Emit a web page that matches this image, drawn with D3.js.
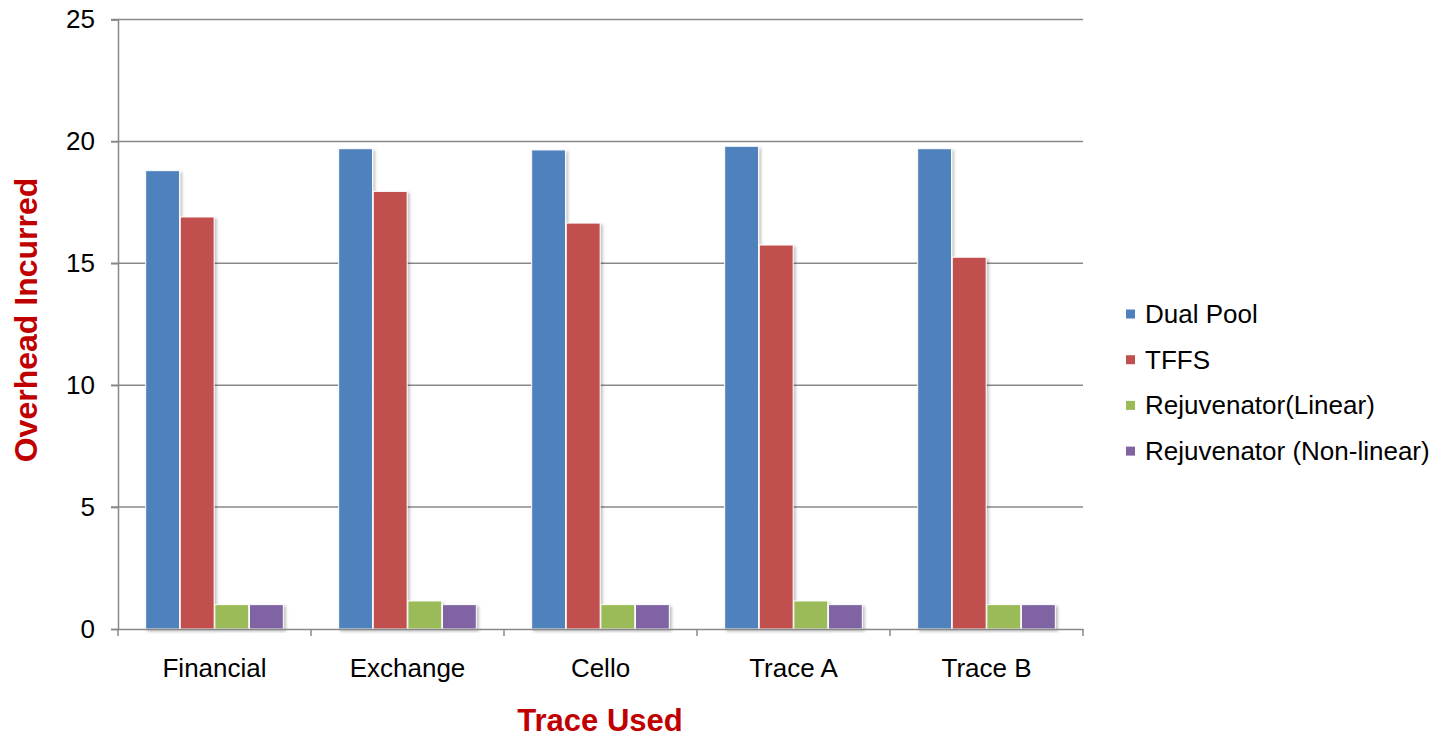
<!DOCTYPE html>
<html>
<head>
<meta charset="utf-8">
<script src="https://cdn.jsdelivr.net/npm/d3@7"></script>
<style>
  body { margin: 0; background: #fff; }
  text { font-family: "Liberation Sans", Arial, sans-serif; }
</style>
</head>
<body>
<div id="chart"></div>
<script>
(function () {
  const traces = ["Financial", "Exchange", "Cello", "Trace A", "Trace B"];
  const seriesNames = ["Dual Pool", "TFFS", "Rejuvenator(Linear)", "Rejuvenator (Non-linear)"];
  const dualPool = [18.8, 19.7, 19.65, 19.8, 19.7];
  const tffs = [16.9, 17.95, 16.65, 15.75, 15.25];
  const rejLinear = [1.0, 1.15, 1.0, 1.15, 1.0];
  const rejNonLinear = [1.0, 1.0, 1.0, 1.0, 1.0];
  const colors = ["#4F81BD", "#C0504D", "#9BBB59", "#8064A2"];
  const yTicks = [0, 5, 10, 15, 20, 25];

  const series = [dualPool, tffs, rejLinear, rejNonLinear];

  const width = 1446, height = 737;
  const margin = { left: 118, right: 363, top: 19.5, bottom: 108 };

  const svg = d3.select("#chart").append("svg")
    .attr("width", width)
    .attr("height", height);

  const defs = svg.append("defs");
  defs.append("filter")
    .attr("id", "shadow")
    .attr("x", "-20%").attr("y", "-5%")
    .attr("width", "150%").attr("height", "120%")
    .append("feDropShadow")
    .attr("dx", 2).attr("dy", 2)
    .attr("stdDeviation", 1.5)
    .attr("flood-color", "#000")
    .attr("flood-opacity", 0.25);

  const x = d3.scaleBand()
    .domain(traces)
    .range([margin.left, width - margin.right]);

  const x1 = d3.scaleBand()
    .domain(d3.range(series.length))
    .range([0, x.bandwidth()])
    .paddingOuter(0.8)
    .paddingInner(0.02);

  const y = d3.scaleLinear()
    .domain([0, 25])
    .range([height - margin.bottom, margin.top]);

  // gridlines
  svg.append("g")
    .selectAll("line")
    .data(yTicks.filter(d => d > 0))
    .join("line")
    .attr("x1", margin.left - 7)
    .attr("x2", width - margin.right)
    .attr("y1", d => y(d))
    .attr("y2", d => y(d))
    .attr("stroke", "#898989")
    .attr("stroke-width", 1.5);

  // bars
  const groups = svg.append("g")
    .selectAll("g")
    .data(traces)
    .join("g")
    .attr("transform", d => `translate(${x(d)},0)`);

  groups.selectAll("rect")
    .data((d, i) => series.map((s, k) => ({ k: k, v: s[i] })))
    .join("rect")
    .attr("x", d => x1(d.k))
    .attr("width", x1.bandwidth())
    .attr("y", d => y(d.v))
    .attr("height", d => y(0) - y(d.v))
    .attr("fill", d => colors[d.k])
    .attr("stroke", "#fff")
    .attr("stroke-width", 1)
    .attr("filter", "url(#shadow)");

  // y axis
  const yAxis = svg.append("g")
    .attr("transform", `translate(${margin.left},0)`)
    .call(d3.axisLeft(y).tickValues(yTicks).tickSize(7).tickPadding(16));
  yAxis.select(".domain").attr("stroke", "#898989").attr("stroke-width", 1.5);
  yAxis.selectAll(".tick line").attr("stroke", "#898989").attr("stroke-width", 1.5);
  yAxis.selectAll(".tick text")
    .attr("font-size", 26)
    .attr("fill", "#000")
    .style("font-family", "'Liberation Sans', Arial, sans-serif");

  // x axis
  const xAxis = svg.append("g")
    .attr("transform", `translate(0,${y(0)})`)
    .call(d3.axisBottom(x).tickSize(0).tickPadding(30));
  xAxis.select(".domain").attr("stroke", "#898989").attr("stroke-width", 1.5);
  xAxis.selectAll(".tick text")
    .attr("font-size", 26)
    .attr("fill", "#000")
    .style("font-family", "'Liberation Sans', Arial, sans-serif");

  // category boundary ticks
  svg.append("g")
    .selectAll("line")
    .data(traces.concat([null]))
    .join("line")
    .attr("x1", d => d === null ? x.range()[1] : x(d))
    .attr("x2", d => d === null ? x.range()[1] : x(d))
    .attr("y1", y(0))
    .attr("y2", y(0) + 7)
    .attr("stroke", "#898989")
    .attr("stroke-width", 1.5);

  // axis titles
  svg.append("text")
    .attr("transform", "translate(37,320) rotate(-90)")
    .attr("text-anchor", "middle")
    .attr("font-size", 32)
    .attr("font-weight", "bold")
    .attr("fill", "#C00000")
    .text("Overhead Incurred");

  svg.append("text")
    .attr("x", 600)
    .attr("y", 731)
    .attr("text-anchor", "middle")
    .attr("font-size", 31)
    .attr("font-weight", "bold")
    .attr("fill", "#C00000")
    .text("Trace Used");

  // legend
  const legend = svg.append("g")
    .attr("transform", "translate(1126,314)");
  const item = legend.selectAll("g")
    .data(seriesNames)
    .join("g")
    .attr("transform", (d, i) => `translate(0,${i * 45.7})`);
  item.append("rect")
    .attr("x", 0).attr("y", -4.5)
    .attr("width", 9).attr("height", 9)
    .attr("fill", (d, i) => colors[i]);
  item.append("text")
    .attr("x", 19)
    .attr("y", 9)
    .attr("font-size", 26)
    .attr("fill", "#000")
    .text(d => d);
})();
</script>
</body>
</html>
